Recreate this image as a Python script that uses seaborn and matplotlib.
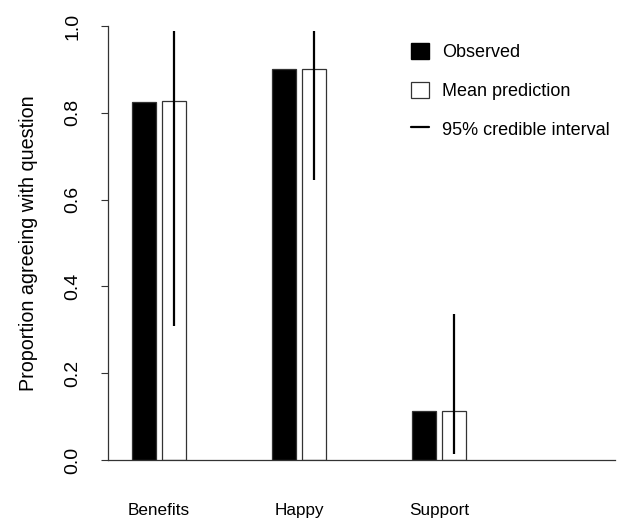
import numpy as np
import pandas as pd
import seaborn as sns
import matplotlib.pyplot as plt
from matplotlib.patches import Patch
from matplotlib.lines import Line2D

# values
questions = ["Benefits", "Happy", "Support"]
observed = [0.825, 0.900, 0.112]
mean_pred = [0.827, 0.900, 0.112]
ci_low = [0.308, 0.645, 0.014]
ci_high = [0.988, 0.988, 0.336]
series = ["Observed", "Mean prediction"]

df = pd.DataFrame({
    "question": questions * 2,
    "type": [series[0]] * 3 + [series[1]] * 3,
    "value": observed + mean_pred,
})

sns.set_style("white")
plt.rcParams['font.family'] = ['Liberation Sans', 'DejaVu Sans']
plt.rcParams['text.color'] = 'black'
plt.rcParams['axes.labelcolor'] = 'black'
plt.rcParams['xtick.color'] = 'black'
plt.rcParams['ytick.color'] = 'black'

fig = plt.figure(figsize=(6.24, 5.2), dpi=100)
ax = fig.add_axes([108/624, 1 - 460/520, 507/624, 434/520])

sns.barplot(data=df, x="question", y="value", hue="type", hue_order=series,
            palette={"Observed": "black", "Mean prediction": "white"},
            width=0.436, gap=0.215, edgecolor="#333333", linewidth=0.9,
            legend=False, ax=ax)

# credible intervals drawn at the centre of the prediction bars
xs = [p.get_x() + p.get_width() / 2 for p in ax.containers[1].patches]
ax.vlines(xs, ci_low, ci_high, color="black", linewidth=1.6)

ax.set_xlim(-0.364, 3.257)
ax.set_ylim(0, 1.0)
ax.set_yticks([0, 0.2, 0.4, 0.6, 0.8, 1.0])
ax.set_yticklabels(["0.0", "0.2", "0.4", "0.6", "0.8", "1.0"], rotation=90, va="center")
ax.tick_params(axis="y", length=5, width=0.8, color="#333333", direction="out",
               pad=14, labelsize=14, left=True)
ax.tick_params(axis="x", length=0, pad=31, labelsize=12.3)
ax.set_xlabel("")
ax.set_ylabel("Proportion agreeing with question", fontsize=14.2, labelpad=19)

sns.despine(ax=ax, top=True, right=True)
for s in ["left", "bottom"]:
    ax.spines[s].set_color("#333333")
    ax.spines[s].set_linewidth(0.9)

handles = [Patch(facecolor="black", edgecolor="black"),
           Patch(facecolor="white", edgecolor="#333333", linewidth=0.9),
           Line2D([], [], color="black", linewidth=1.6)]
labels = ["Observed", "Mean prediction", "95% credible interval"]
fig.legend(handles, labels, loc="upper left", bbox_to_anchor=(411/624, 1 - 43/520),
           frameon=False, fontsize=13, handlelength=1.0, handleheight=1.0,
           handletextpad=0.7, labelspacing=1.13, borderpad=0, borderaxespad=0)

fig.savefig("out.png", dpi=100)
